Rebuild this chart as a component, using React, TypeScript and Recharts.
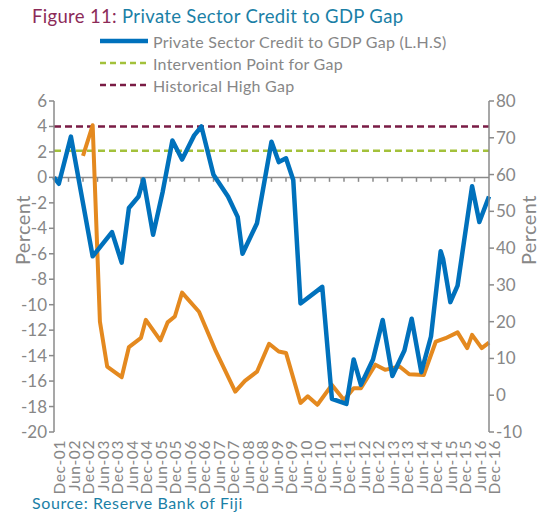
import { LineChart, Line, XAxis, YAxis, ReferenceLine } from "recharts";

// x labels, one every six months from Dec-01
const tickLabels = [
  "Dec-01", "Jun-02", "Dec-02", "Jun-03", "Dec-03", "Jun-04", "Dec-04", "Jun-05",
  "Dec-05", "Jun-06", "Dec-06", "Jun-07", "Dec-07", "Jun-08", "Dec-08", "Jun-09",
  "Dec-09", "Jun-10", "Dec-10", "Jun-11", "Dec-11", "Jun-12", "Dec-12", "Jun-13",
  "Dec-13", "Jun-14", "Dec-14", "Jun-15", "Dec-15", "Jun-16", "Dec-16",
];
const tickMonths = [
  0, 6, 12, 18, 24, 30, 36, 42, 48, 54, 60, 66, 72, 78, 84, 90,
  96, 102, 108, 114, 120, 126, 132, 138, 144, 150, 156, 162, 168, 174, 180,
];

// months since Dec-01
const gapMonths = [
  0, 2, 7, 16, 24, 28, 31, 35, 37, 41, 45, 49, 53, 58, 61, 66, 72, 76, 78, 84, 90, 93,
  96, 99, 102, 111, 115, 121, 124, 127, 132, 136, 140, 145, 148, 152, 156, 160, 161,
  164, 167, 173, 176, 180,
];
const gapValues = [
  0, -0.5, 3.2, -6.2, -4.3, -6.7, -2.4, -1.5, -0.15, -4.5, -1.1, 2.9, 1.4, 3.3, 4.0, 0.2,
  -1.5, -3.1, -6.0, -3.6, 2.8, 1.2, 1.5, -0.2, -9.9, -8.6, -17.4, -17.8, -14.3, -16.3,
  -14.3, -11.2, -15.6, -13.6, -11.1, -15.3, -12.5, -5.8, -6.4, -9.8, -8.5, -0.7, -3.5, -1.5,
];

// second series, right axis
const rhsMonths = [
  12, 16, 19, 22, 28, 31, 36, 38, 44, 47, 50, 53, 60, 67, 75, 79, 84, 89, 93, 96, 102,
  105, 109, 115, 120, 124, 127, 133, 137, 143, 147, 153, 158, 162, 167, 171, 173, 177, 180,
];
const rhsValues = [
  65.1, 73.4, 20, 7.8, 4.9, 13.1, 15.6, 20.5, 14.9, 19.8, 21.4, 27.9, 22.7, 11.9, 1.0,
  3.9, 6.4, 14.0, 11.9, 11.5, -2.1, -0.3, -2.6, 2.8, -1.3, 1.9, 1.9, 8.3, 6.9, 7.8, 5.7,
  5.5, 14.6, 15.5, 17.1, 12.8, 16.4, 12.8, 14.3,
];

const interventionPoint = 2.1;
const historicalHigh = 4;

const leftTicks = [-20, -18, -16, -14, -12, -10, -8, -6, -4, -2, 0, 2, 4, 6];
const rightTicks = [-10, 0, 10, 20, 30, 40, 50, 60, 70, 80];

const gapData = gapMonths.map((m, i) => ({ m, v: gapValues[i] }));
const rhsData = rhsMonths.map((m, i) => ({ m, v: rhsValues[i] }));

const FONT = "Lato, 'Open Sans', sans-serif";
const BLUE = "#0071bc";
const ORANGE = "#e4891f";
const GREEN = "#a3c13b";
const MAROON = "#7a1c45";
const GREY = "#878787";
const AXIS = "#8a8a8a";
const TEAL = "#1b7fa6";

const legendItems = [
  { name: "Private Sector Credit to GDP Gap (L.H.S)", color: BLUE, dash: undefined, width: 4.5 },
  { name: "Intervention Point for Gap", color: GREEN, dash: "6 4", width: 2.5 },
  { name: "Historical High Gap", color: MAROON, dash: "6 4", width: 2.5 },
];

const axisTick = { fontSize: 17, fill: GREY, fontFamily: FONT };

function percentLabel(dx: number) {
  return (props: any) => {
    const vb = props.viewBox;
    const x = vb.x + dx;
    const y = vb.y + vb.height * 0.39;
    return (
      <text
        x={x}
        y={y}
        transform={`rotate(-90 ${x} ${y})`}
        textAnchor="middle"
        dominantBaseline="central"
        fill={GREY}
        fontSize={20}
        fontFamily={FONT}
        letterSpacing={0.4}
      >
        Percent
      </text>
    );
  };
}

export default function App() {
  return (
    <div style={{ position: "relative", width: 546, height: 513, background: "#fff", fontFamily: FONT }}>
      <style>{"body{margin:0}"}</style>
      <div style={{ position: "absolute", left: 32, top: 5, fontSize: 18.5, letterSpacing: 0.33, whiteSpace: "nowrap" }}>
        <span style={{ color: "#8c2a58" }}>Figure 11: </span>
        <span style={{ color: TEAL }}>Private Sector Credit to GDP Gap</span>
      </div>
      <div style={{ position: "absolute", left: 100, top: 30 }}>
        {legendItems.map((item) => (
          <div key={item.name} style={{ display: "flex", alignItems: "center", height: 22 }}>
            <svg width={48} height={10} style={{ marginRight: 5 }}>
              <line
                x1={0}
                y1={5}
                x2={48}
                y2={5}
                stroke={item.color}
                strokeWidth={item.width}
                strokeDasharray={item.dash}
                strokeLinecap={item.dash ? "butt" : "round"}
              />
            </svg>
            <span style={{ color: GREY, fontSize: 16, letterSpacing: 0.25, whiteSpace: "nowrap" }}>{item.name}</span>
          </div>
        ))}
      </div>
      <div style={{ position: "absolute", left: 0, top: 0 }}>
        <LineChart width={546} height={513} margin={{ top: 101, right: 0, bottom: 0, left: 0 }}>
          <XAxis
            dataKey="m"
            type="number"
            domain={[0, 180]}
            ticks={tickMonths}
            interval={0}
            tickFormatter={(v: number) => tickLabels[tickMonths.indexOf(v)]}
            axisLine={false}
            tickLine={false}
            tickSize={0}
            tickMargin={8}
            height={81}
            tick={{ fontSize: 15.5, fill: GREY, fontFamily: FONT, letterSpacing: 0.6, angle: -90, textAnchor: "end", verticalAnchor: "middle" } as any}
          />
          <YAxis
            yAxisId="left"
            domain={[-20, 6]}
            ticks={leftTicks}
            interval={0}
            width={54}
            tick={axisTick}
            tickSize={5}
            tickMargin={2}
            axisLine={{ stroke: AXIS, strokeWidth: 1.5 }}
            tickLine={{ stroke: AXIS, strokeWidth: 1.5 }}
            label={percentLabel(22)}
          />
          <YAxis
            yAxisId="right"
            orientation="right"
            domain={[-10, 80]}
            ticks={rightTicks}
            interval={0}
            width={57}
            tick={axisTick}
            tickSize={5}
            tickMargin={2}
            axisLine={{ stroke: AXIS, strokeWidth: 1.5 }}
            tickLine={{ stroke: AXIS, strokeWidth: 1.5 }}
            label={percentLabel(39)}
          />
          <ReferenceLine yAxisId="left" y={0} stroke={AXIS} strokeWidth={1.5} />
          {tickMonths.slice(1, -1).map((t) => (
            <ReferenceLine
              key={t}
              yAxisId="left"
              segment={[{ x: t, y: 0 }, { x: t, y: -0.35 }]}
              stroke={AXIS}
              strokeWidth={1.5}
            />
          ))}
          <ReferenceLine yAxisId="left" y={interventionPoint} stroke={GREEN} strokeWidth={2.5} strokeDasharray="7 4" />
          <ReferenceLine yAxisId="left" y={historicalHigh} stroke={MAROON} strokeWidth={2.5} strokeDasharray="7 4" />
          <Line
            yAxisId="right"
            data={rhsData}
            dataKey="v"
            type="linear"
            stroke={ORANGE}
            strokeWidth={4}
            dot={false}
            strokeLinejoin="round"
            isAnimationActive={false}
          />
          <Line
            yAxisId="left"
            data={gapData}
            dataKey="v"
            type="linear"
            stroke={BLUE}
            strokeWidth={4.5}
            dot={false}
            strokeLinejoin="round"
            isAnimationActive={false}
          />
        </LineChart>
      </div>
      <div style={{ position: "absolute", left: 32, top: 493, fontSize: 16, letterSpacing: 0.6, color: TEAL, whiteSpace: "nowrap" }}>
        Source: Reserve Bank of Fiji
      </div>
    </div>
  );
}
